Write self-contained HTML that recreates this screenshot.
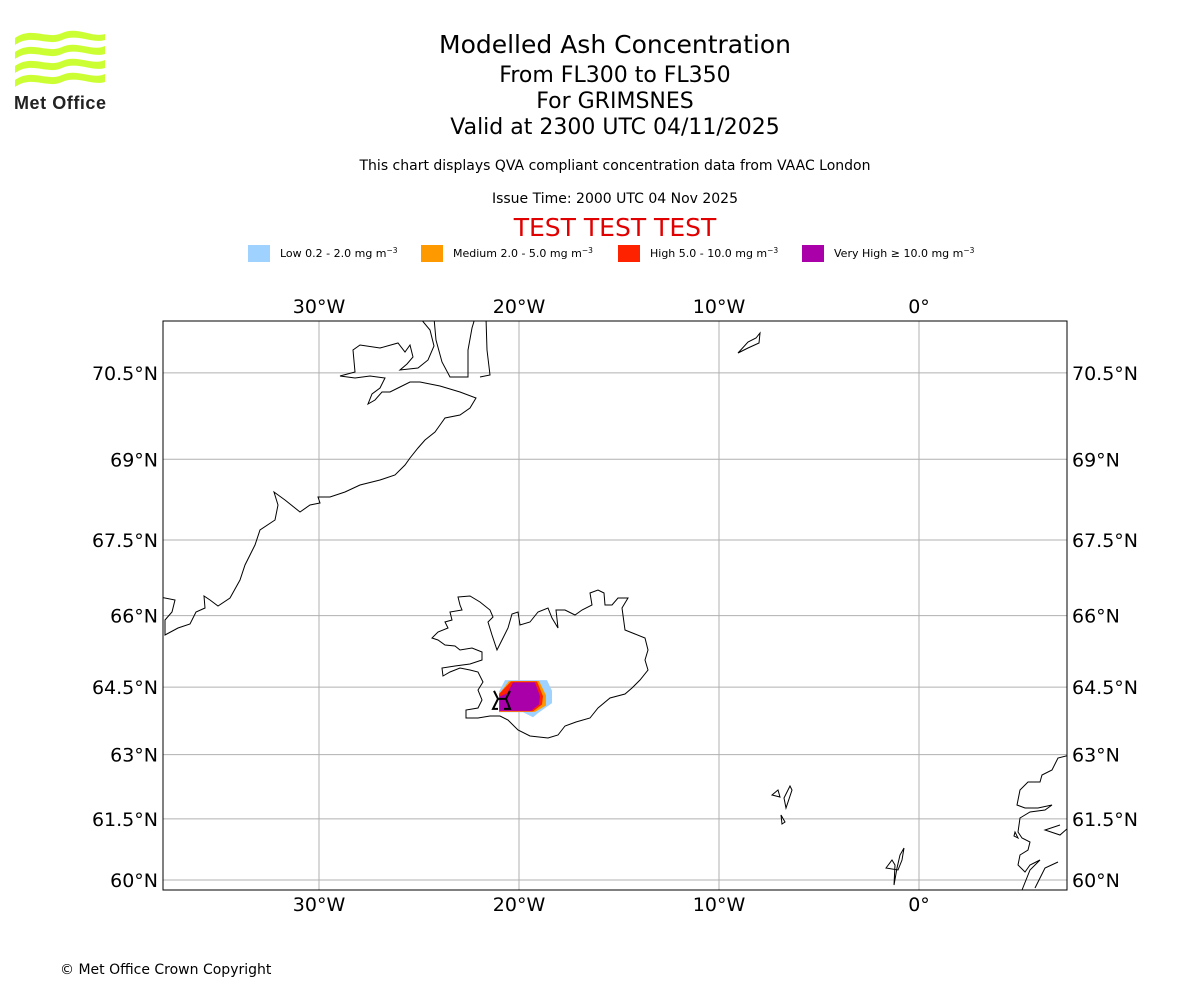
<!DOCTYPE html>
<html><head><meta charset="utf-8"><style>
body{margin:0;background:#fff;font-family:"DejaVu Sans","Liberation Sans",sans-serif}
#wrap{position:relative;width:1200px;height:1000px;overflow:hidden}
.t{position:absolute;left:0;width:1230px;text-align:center;white-space:nowrap}
</style></head><body>
<div id="wrap">
<svg style="position:absolute;left:12px;top:28px" width="100" height="84" viewBox="0 0 100 84">
<g fill="#ccff33">
<path d="M3,10 C20,-2 35,12 50,5 C65,-2 80,10 93,6 L93,12 C80,16 65,5 50,12 C35,19 20,5 3,17Z"/>
<path d="M3,24 C20,12 35,26 50,19 C65,12 80,24 93,18 L93,26 C80,30 65,19 50,26 C35,33 20,19 3,31Z"/>
<path d="M3,38 C20,26 35,40 50,33 C65,26 80,38 93,32 L93,40 C80,44 65,33 50,40 C35,47 20,33 3,45Z"/>
<path d="M3,52 C20,40 35,54 50,47 C65,40 80,52 93,46 L93,54 C80,58 65,47 50,54 C35,61 20,47 3,59Z"/>
</g>
<text x="2" y="81" font-size="18" font-weight="bold" fill="#222" font-family="Liberation Sans,sans-serif" textLength="92">Met Office</text>
</svg>
<div class="t" style="top:30px;font-size:25px">Modelled Ash Concentration</div>
<div class="t" style="top:63px;font-size:22px">From FL300 to FL350</div>
<div class="t" style="top:89px;font-size:22px">For GRIMSNES</div>
<div class="t" style="top:115px;font-size:22px">Valid at 2300 UTC 04/11/2025</div>
<div class="t" style="top:158px;font-size:14px">This chart displays QVA compliant concentration data from VAAC London</div>
<div class="t" style="top:191px;font-size:14px">Issue Time: 2000 UTC 04 Nov 2025</div>
<div class="t" style="top:213px;font-size:25px;color:#e00000">TEST TEST TEST</div>
<svg id="chart" width="1200" height="1000" style="position:absolute;left:0;top:0"></svg>
<div style="position:absolute;left:60px;top:962px;font-size:14px">© Met Office Crown Copyright</div>
</div>
<script>
const legendLabels=["Low 0.2 - 2.0 mg m","Medium 2.0 - 5.0 mg m","High 5.0 - 10.0 mg m","Very High \u2265 10.0 mg m"];
const legendColors=["#a0d2ff","#ff9900","#ff2200","#aa00aa"];
const lonTicks=[-30,-20,-10,0];
const lonTickLabels=["30°W","20°W","10°W","0°"];
const latTicks=[60,61.5,63,64.5,66,67.5,69,70.5];
const latTickLabels=["60°N","61.5°N","63°N","64.5°N","66°N","67.5°N","69°N","70.5°N"];
const plumeLevels=["low","medium","high","very-high"];
const plumeLow=[[-20.7,64.65],[-18.6,64.65],[-18.35,64.42],[-18.35,64.15],[-19.05,63.93],[-19.3,63.84],[-19.8,63.95],[-21.0,63.95],[-21.0,64.4]];
const plumeMedium=[[-20.5,64.63],[-19.0,64.63],[-18.65,64.32],[-18.65,64.1],[-19.2,63.96],[-21.0,63.96],[-21.0,64.35]];
const plumeHigh=[[-20.4,64.62],[-19.1,64.62],[-18.8,64.3],[-18.85,64.12],[-19.3,63.97],[-21.0,63.97],[-21.0,64.35]];
const plumeVeryHigh=[[-20.3,64.6],[-19.2,64.6],[-18.95,64.3],[-19.0,64.12],[-19.4,63.98],[-20.95,63.98],[-20.95,64.3],[-20.6,64.36]];
const volcano=[-20.85,64.2];

const NS="http://www.w3.org/2000/svg";
const svg=document.getElementById('chart');
const X0=163,X1=1067,Y0=321,Y1=890;
const PX=20*180/Math.PI;
const merc=l=>Math.log(Math.tan(Math.PI/4+l*Math.PI/360));
const xS=lon=>919+lon*20;
const yS=lat=>880-(merc(lat)-merc(60))*PX*0.996;
function mk(tag,attrs,parent){const e=document.createElementNS(NS,tag);for(const k in attrs)e.setAttribute(k,attrs[k]);(parent||svg).appendChild(e);return e;}

const lx=[248,421,618,802];
legendLabels.forEach((lab,i)=>{
 const g=mk('g',{});
 
 
 mk('rect',{x:lx[i],y:245,width:22,height:17,fill:legendColors[i]},g);
 const t=mk('text',{x:lx[i]+32,y:257,'font-size':11},g);
 t.textContent=lab;
 const s=mk('tspan',{'baseline-shift':'super','font-size':7.5},t);s.textContent='\u22123';
});

const defs=mk('defs',{});
const cp=mk('clipPath',{id:'clip'},defs);
mk('rect',{x:X0,y:Y0,width:X1-X0,height:Y1-Y0},cp);
const mapG=mk('g',{'clip-path':'url(#clip)'});



lonTicks.forEach((v,i)=>{
 const l=mk('line',{x1:xS(v),x2:xS(v),y1:Y0,y2:Y1,stroke:'#b0b0b0','stroke-width':1},mapG);
 
 
 [Y0-8,Y1+21].forEach((yy,k)=>{const t=mk('text',{x:xS(v),y:yy,'font-size':19,'text-anchor':'middle'});t.textContent=lonTickLabels[i];
 });
});
latTicks.forEach((v,i)=>{
 const l=mk('line',{x1:X0,x2:X1,y1:yS(v),y2:yS(v),stroke:'#b0b0b0','stroke-width':1},mapG);
 
 
 const t1=mk('text',{x:X0-5,y:yS(v)+7,'font-size':19,'text-anchor':'end'});t1.textContent=latTickLabels[i];
 
 const t2=mk('text',{x:X1+5,y:yS(v)+7,'font-size':19,'text-anchor':'start'});t2.textContent=latTickLabels[i];
 
});

[plumeLow,plumeMedium,plumeHigh,plumeVeryHigh].forEach((poly,i)=>{
 const p=mk('polygon',{points:poly.map(q=>xS(q[0])+','+yS(q[1])).join(' '),fill:legendColors[i]},mapG);
 
 
});

const coasts={
 greenland:"M160,597 L175,600 172,612 165,620 165,635 178,628 190,624 196,612 205,608 204,596 210,600 218,606 230,598 240,580 245,565 255,545 260,530 275,520 278,505 274,492 285,500 300,512 310,505 320,503 318,497 330,497 345,492 360,485 380,480 395,475 405,465 410,458 418,448 425,440 435,432 440,425 445,418 460,415 470,408 476,398 460,392 440,386 420,382 410,382 398,388 390,392 382,392 375,400 368,404 372,394 380,388 385,378 370,376 355,378 340,376 355,372 353,350 360,345 380,348 398,343 405,352 410,345 413,357 407,364 400,370 418,368 428,360 434,346 430,330 420,318 434,318 436,340 442,362 450,377 468,377 468,350 472,328 475,318 486,318 487,350 490,375 480,377",
 iceland:"M458,597 L470,596 480,602 490,610 493,617 488,622 492,635 497,650 502,640 508,628 512,614 518,612 520,625 530,622 538,612 548,608 552,618 558,628 556,610 565,610 575,615 582,610 592,605 590,593 598,590 604,593 605,605 612,605 618,598 628,598 622,608 625,630 635,634 645,638 648,650 645,660 648,670 640,680 632,688 625,694 610,698 598,708 590,718 576,722 565,726 558,735 548,738 530,736 518,730 508,720 500,716 490,716 478,718 466,718 466,710 478,708 482,700 478,690 483,682 478,672 470,670 460,668 450,672 443,676 442,668 455,666 470,664 482,660 482,652 472,648 460,650 455,646 445,645 438,640 432,638 438,632 448,628 445,622 452,620 450,612 462,610 460,605Z",
 janmayen:"M738,353 L748,342 756,338 760,333 759,343 748,348Z",
 faroe:"M772,795 L778,790 780,797 Z M784,798 L790,786 792,790 786,808 Z M781,815 L785,822 782,824Z",
 shetland:"M886,868 L892,860 895,865 894,885 897,868 900,855 904,848 902,860 898,870 Z",
 norway:"M1070,755 L1058,758 1052,770 1042,775 1040,782 1028,782 1020,790 1017,805 1025,808 1038,808 1052,805 1045,810 1030,812 1020,818 1018,832 1022,838 1030,842 1028,850 1020,855 1018,865 1025,872 1030,865 1040,860 1030,870 1022,890 M1060,825 L1045,830 1060,835 1068,828 M1058,862 L1045,868 1035,888 M1015,832 L1018,838 1014,836Z"
};
for(const k in coasts){
 const p=mk('path',{d:coasts[k],fill:'none',stroke:'#000','stroke-width':1},mapG);
 
 
}
const vx=xS(volcano[0]),vy=yS(volcano[1]);
const vs=mk('path',{d:`M${vx-8},${vy-10} L${vx-4},${vy-2} L${vx-9},${vy+8} L${vx-4},${vy+8} M${vx+8},${vy-10} L${vx+4},${vy-2} L${vx+8},${vy+8} L${vx+2},${vy+8} M${vx-4},${vy-2} L${vx+4},${vy-2}`,fill:'none',stroke:'#000','stroke-width':2},mapG);



const fr=mk('rect',{x:X0,y:Y0,width:X1-X0,height:Y1-Y0,fill:'none',stroke:'#000','stroke-width':1});


</script>
</body></html>
